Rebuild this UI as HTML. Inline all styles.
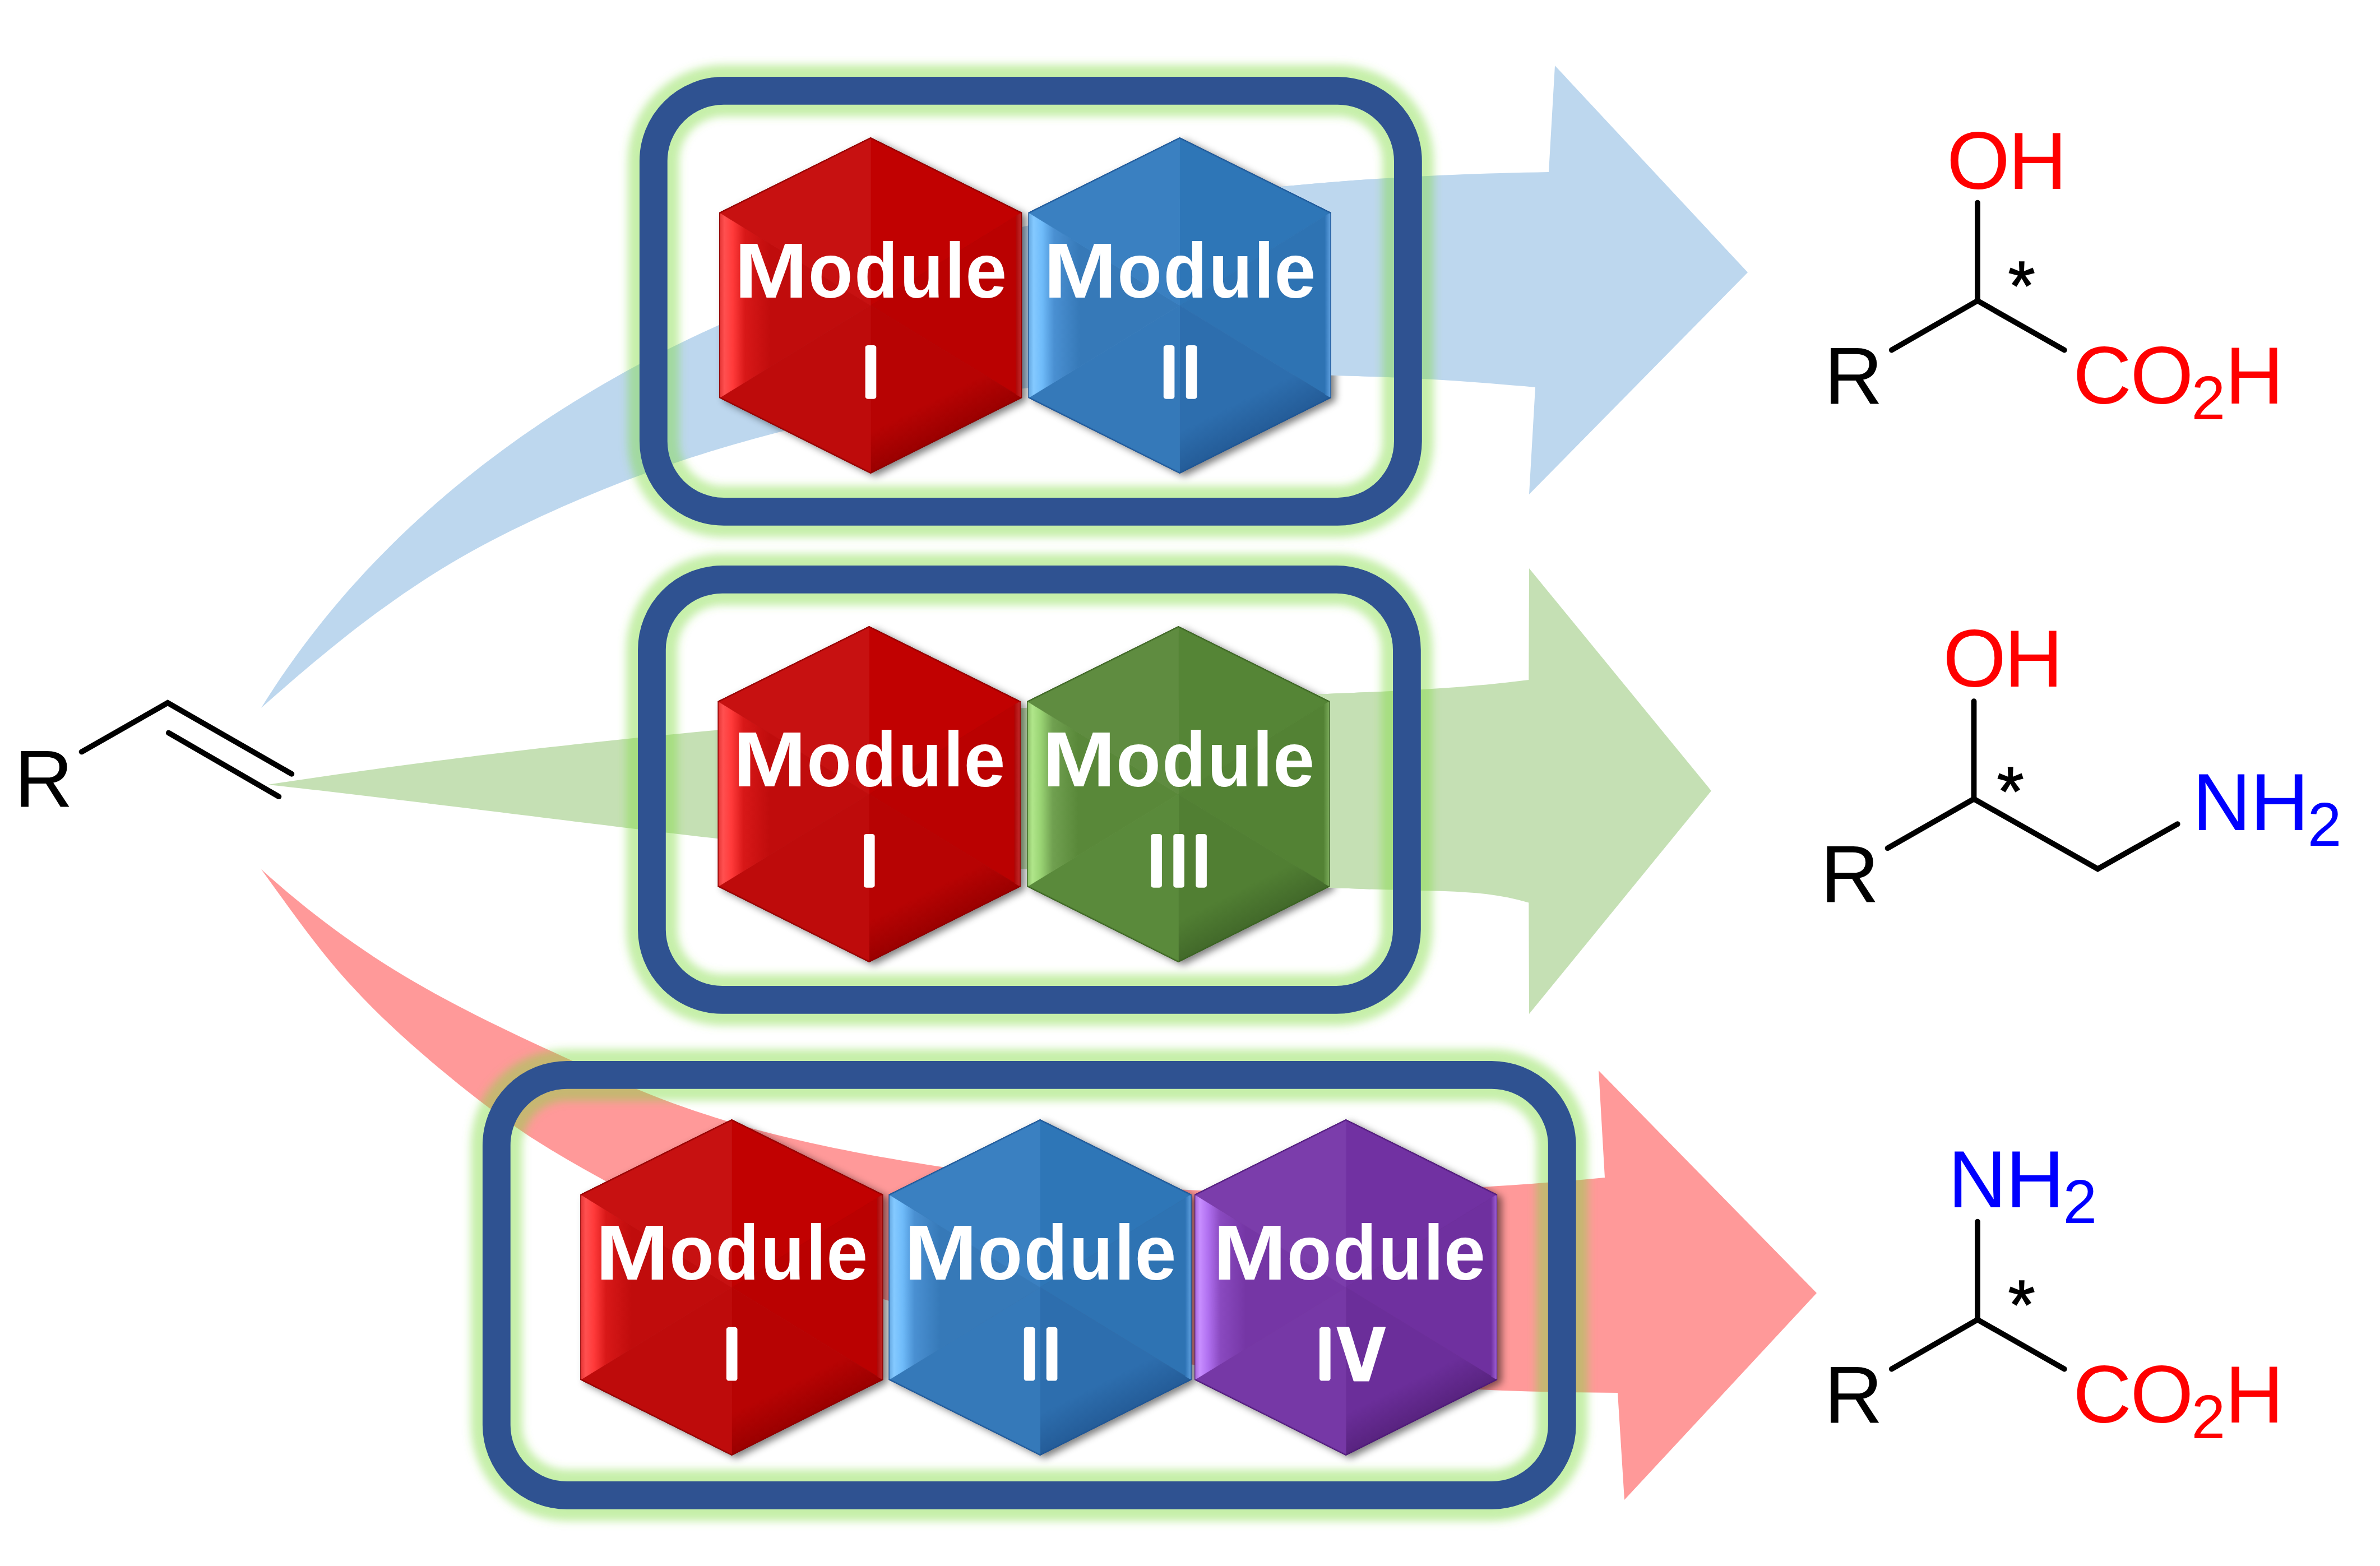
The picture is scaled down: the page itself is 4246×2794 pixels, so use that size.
<!DOCTYPE html><html><head><meta charset="utf-8"><style>html,body{margin:0;padding:0;background:#fff;}svg{display:block;}</style></head><body>
<svg xmlns="http://www.w3.org/2000/svg" width="4246" height="2794" viewBox="0 0 4246 2794">
<defs><filter id="glow" x="-10%" y="-10%" width="120%" height="120%"><feGaussianBlur stdDeviation="7.5"/></filter><filter id="shd" x="-20%" y="-20%" width="140%" height="140%"><feGaussianBlur stdDeviation="7"/></filter><filter id="shd2" x="-20%" y="-20%" width="140%" height="140%"><feGaussianBlur stdDeviation="8"/></filter><filter id="soft" x="-5%" y="-5%" width="110%" height="110%"><feGaussianBlur stdDeviation="1.2"/></filter><linearGradient id="gl1" gradientUnits="userSpaceOnUse" x1="1283.2" y1="0" x2="1553.2" y2="0"><stop offset="0" stop-color="#8E0000"/><stop offset="0.007" stop-color="#E93838"/><stop offset="0.035" stop-color="#FF5050"/><stop offset="0.09" stop-color="#FF3A3A"/><stop offset="0.17" stop-color="#D81818"/><stop offset="0.34" stop-color="#C00C0C"/><stop offset="1" stop-color="#C00C0C"/></linearGradient><linearGradient id="gbr1" gradientUnits="userSpaceOnUse" x1="1553.2" y1="545.0" x2="1673.2" y2="785.0"><stop offset="0" stop-color="#B70303"/><stop offset="0.75" stop-color="#B70303"/><stop offset="1" stop-color="#9A0000"/></linearGradient><linearGradient id="grim1" gradientUnits="userSpaceOnUse" x1="1812.2" y1="0" x2="1823.2" y2="0"><stop offset="0" stop-color="#AC0606"/><stop offset="0.85" stop-color="#C02828"/><stop offset="1" stop-color="#8E0000"/></linearGradient><clipPath id="hc1"><polygon points="1553.2,245.0 1823.2,379.0 1823.2,710.0 1553.2,845.0 1283.2,710.0 1283.2,379.0"/></clipPath><linearGradient id="gl2" gradientUnits="userSpaceOnUse" x1="1834.6" y1="0" x2="2104.6" y2="0"><stop offset="0" stop-color="#1E5596"/><stop offset="0.007" stop-color="#69ADE6"/><stop offset="0.035" stop-color="#84C9FF"/><stop offset="0.09" stop-color="#70BCFA"/><stop offset="0.17" stop-color="#4A90D2"/><stop offset="0.34" stop-color="#3679B8"/><stop offset="1" stop-color="#3679B8"/></linearGradient><linearGradient id="gbr2" gradientUnits="userSpaceOnUse" x1="2104.6" y1="545.0" x2="2224.6" y2="785.0"><stop offset="0" stop-color="#2D6EAE"/><stop offset="0.75" stop-color="#2D6EAE"/><stop offset="1" stop-color="#245C98"/></linearGradient><linearGradient id="grim2" gradientUnits="userSpaceOnUse" x1="2363.6" y1="0" x2="2374.6" y2="0"><stop offset="0" stop-color="#2F74B6"/><stop offset="0.85" stop-color="#5B9DDC"/><stop offset="1" stop-color="#1E5596"/></linearGradient><clipPath id="hc2"><polygon points="2104.6,245.0 2374.6,379.0 2374.6,710.0 2104.6,845.0 1834.6,710.0 1834.6,379.0"/></clipPath><linearGradient id="gl3" gradientUnits="userSpaceOnUse" x1="1280.6" y1="0" x2="1550.6" y2="0"><stop offset="0" stop-color="#8E0000"/><stop offset="0.007" stop-color="#E93838"/><stop offset="0.035" stop-color="#FF5050"/><stop offset="0.09" stop-color="#FF3A3A"/><stop offset="0.17" stop-color="#D81818"/><stop offset="0.34" stop-color="#C00C0C"/><stop offset="1" stop-color="#C00C0C"/></linearGradient><linearGradient id="gbr3" gradientUnits="userSpaceOnUse" x1="1550.6" y1="1417.0" x2="1670.6" y2="1657.0"><stop offset="0" stop-color="#B70303"/><stop offset="0.75" stop-color="#B70303"/><stop offset="1" stop-color="#9A0000"/></linearGradient><linearGradient id="grim3" gradientUnits="userSpaceOnUse" x1="1809.6" y1="0" x2="1820.6" y2="0"><stop offset="0" stop-color="#AC0606"/><stop offset="0.85" stop-color="#C02828"/><stop offset="1" stop-color="#8E0000"/></linearGradient><clipPath id="hc3"><polygon points="1550.6,1117.0 1820.6,1251.0 1820.6,1582.0 1550.6,1717.0 1280.6,1582.0 1280.6,1251.0"/></clipPath><linearGradient id="gl4" gradientUnits="userSpaceOnUse" x1="1832.3" y1="0" x2="2102.3" y2="0"><stop offset="0" stop-color="#3B6322"/><stop offset="0.007" stop-color="#92C56E"/><stop offset="0.035" stop-color="#B0E68A"/><stop offset="0.09" stop-color="#9AD474"/><stop offset="0.17" stop-color="#70A050"/><stop offset="0.34" stop-color="#598839"/><stop offset="1" stop-color="#598839"/></linearGradient><linearGradient id="gbr4" gradientUnits="userSpaceOnUse" x1="2102.3" y1="1417.0" x2="2222.3" y2="1657.0"><stop offset="0" stop-color="#517F33"/><stop offset="0.75" stop-color="#517F33"/><stop offset="1" stop-color="#42692A"/></linearGradient><linearGradient id="grim4" gradientUnits="userSpaceOnUse" x1="2361.3" y1="0" x2="2372.3" y2="0"><stop offset="0" stop-color="#548335"/><stop offset="0.85" stop-color="#76A656"/><stop offset="1" stop-color="#3B6322"/></linearGradient><clipPath id="hc4"><polygon points="2102.3,1117.0 2372.3,1251.0 2372.3,1582.0 2102.3,1717.0 1832.3,1582.0 1832.3,1251.0"/></clipPath><linearGradient id="gl5" gradientUnits="userSpaceOnUse" x1="1035.4" y1="0" x2="1305.4" y2="0"><stop offset="0" stop-color="#8E0000"/><stop offset="0.007" stop-color="#E93838"/><stop offset="0.035" stop-color="#FF5050"/><stop offset="0.09" stop-color="#FF3A3A"/><stop offset="0.17" stop-color="#D81818"/><stop offset="0.34" stop-color="#C00C0C"/><stop offset="1" stop-color="#C00C0C"/></linearGradient><linearGradient id="gbr5" gradientUnits="userSpaceOnUse" x1="1305.4" y1="2296.9" x2="1425.4" y2="2536.9"><stop offset="0" stop-color="#B70303"/><stop offset="0.75" stop-color="#B70303"/><stop offset="1" stop-color="#9A0000"/></linearGradient><linearGradient id="grim5" gradientUnits="userSpaceOnUse" x1="1564.4" y1="0" x2="1575.4" y2="0"><stop offset="0" stop-color="#AC0606"/><stop offset="0.85" stop-color="#C02828"/><stop offset="1" stop-color="#8E0000"/></linearGradient><clipPath id="hc5"><polygon points="1305.4,1996.9 1575.4,2130.9 1575.4,2461.9 1305.4,2596.9 1035.4,2461.9 1035.4,2130.9"/></clipPath><linearGradient id="gl6" gradientUnits="userSpaceOnUse" x1="1585.6" y1="0" x2="1855.6" y2="0"><stop offset="0" stop-color="#1E5596"/><stop offset="0.007" stop-color="#69ADE6"/><stop offset="0.035" stop-color="#84C9FF"/><stop offset="0.09" stop-color="#70BCFA"/><stop offset="0.17" stop-color="#4A90D2"/><stop offset="0.34" stop-color="#3679B8"/><stop offset="1" stop-color="#3679B8"/></linearGradient><linearGradient id="gbr6" gradientUnits="userSpaceOnUse" x1="1855.6" y1="2296.9" x2="1975.6" y2="2536.9"><stop offset="0" stop-color="#2D6EAE"/><stop offset="0.75" stop-color="#2D6EAE"/><stop offset="1" stop-color="#245C98"/></linearGradient><linearGradient id="grim6" gradientUnits="userSpaceOnUse" x1="2114.6" y1="0" x2="2125.6" y2="0"><stop offset="0" stop-color="#2F74B6"/><stop offset="0.85" stop-color="#5B9DDC"/><stop offset="1" stop-color="#1E5596"/></linearGradient><clipPath id="hc6"><polygon points="1855.6,1996.9 2125.6,2130.9 2125.6,2461.9 1855.6,2596.9 1585.6,2461.9 1585.6,2130.9"/></clipPath><linearGradient id="gl7" gradientUnits="userSpaceOnUse" x1="2131.1" y1="0" x2="2401.1" y2="0"><stop offset="0" stop-color="#4E1A78"/><stop offset="0.007" stop-color="#AB6FE0"/><stop offset="0.035" stop-color="#C88EFF"/><stop offset="0.09" stop-color="#B070F0"/><stop offset="0.17" stop-color="#8A4AC0"/><stop offset="0.34" stop-color="#7536A5"/><stop offset="1" stop-color="#7536A5"/></linearGradient><linearGradient id="gbr7" gradientUnits="userSpaceOnUse" x1="2401.1" y1="2296.9" x2="2521.1" y2="2536.9"><stop offset="0" stop-color="#6B2E9A"/><stop offset="0.75" stop-color="#6B2E9A"/><stop offset="1" stop-color="#58237F"/></linearGradient><linearGradient id="grim7" gradientUnits="userSpaceOnUse" x1="2660.1" y1="0" x2="2671.1" y2="0"><stop offset="0" stop-color="#7031A1"/><stop offset="0.85" stop-color="#9C5CD2"/><stop offset="1" stop-color="#4E1A78"/></linearGradient><clipPath id="hc7"><polygon points="2401.1,1996.9 2671.1,2130.9 2671.1,2461.9 2401.1,2596.9 2131.1,2461.9 2131.1,2130.9"/></clipPath><clipPath id="clipA1"><rect x="1835" y="200" width="612" height="700"/></clipPath><clipPath id="clipA2"><rect x="1833" y="1080" width="612" height="700"/></clipPath></defs>
<rect width="4246" height="2794" fill="#fff"/>
<path d="M466.0,1263.0 L477.8,1244.2 L489.8,1225.7 L502.1,1207.3 L514.7,1189.2 L527.5,1171.2 L540.5,1153.5 L553.7,1136.0 L567.2,1118.7 L580.9,1101.6 L594.8,1084.7 L608.9,1068.1 L623.2,1051.6 L637.8,1035.4 L652.5,1019.3 L667.5,1003.5 L682.7,987.9 L698.0,972.5 L713.5,957.3 L729.3,942.3 L745.2,927.5 L761.3,912.9 L777.5,898.5 L794.0,884.3 L810.6,870.3 L827.4,856.6 L844.3,843.0 L861.4,829.6 L878.7,816.4 L896.1,803.5 L913.6,790.7 L931.3,778.1 L949.2,765.8 L967.1,753.6 L985.2,741.6 L1003.5,729.8 L1021.8,718.3 L1040.3,706.9 L1058.9,695.7 L1077.6,684.7 L1096.5,673.9 L1115.4,663.3 L1134.4,652.9 L1153.6,642.7 L1172.8,632.7 L1192.2,622.8 L1211.6,613.2 L1231.1,603.7 L1250.7,594.5 L1270.4,585.4 L1290.2,576.5 L1310.1,567.8 L1330.1,559.2 L1350.1,550.9 L1370.2,542.7 L1390.4,534.7 L1410.7,526.8 L1431.0,519.2 L1451.5,511.7 L1472.0,504.3 L1492.5,497.2 L1513.2,490.2 L1533.9,483.3 L1554.6,476.6 L1575.4,470.1 L1596.3,463.7 L1617.3,457.5 L1638.3,451.5 L1659.3,445.6 L1680.4,439.8 L1701.6,434.2 L1722.8,428.8 L1744.0,423.4 L1765.3,418.3 L1786.7,413.3 L1808.1,408.4 L1829.5,403.6 L1850.9,399.0 L1872.4,394.5 L1894.0,390.2 L1915.5,386.0 L1937.1,381.9 L1958.8,378.0 L1980.4,374.1 L2002.1,370.4 L2023.8,366.9 L2045.5,363.4 L2067.3,360.1 L2089.0,356.9 L2110.8,353.8 L2132.6,350.8 L2154.4,347.9 L2176.3,345.2 L2198.1,342.5 L2219.9,340.0 L2241.8,337.6 L2263.6,335.2 L2285.5,333.0 L2307.3,330.9 L2329.2,328.9 L2351.0,327.0 L2372.8,325.2 L2394.7,323.4 L2416.5,321.8 L2438.3,320.3 L2460.1,318.8 L2481.9,317.4 L2503.7,316.2 L2525.4,315.0 L2547.2,313.9 L2568.9,312.8 L2590.6,311.9 L2612.2,311.0 L2633.8,310.2 L2655.5,309.5 L2677.0,308.9 L2698.6,308.3 L2720.1,307.8 L2741.6,307.4 L2763.0,307.0 L2774.0,117.0 L3118.0,486.0 L2728.0,882.0 L2739.0,691.0 L2718.8,689.1 L2698.6,687.4 L2678.4,685.7 L2658.1,684.0 L2637.9,682.5 L2617.7,681.0 L2597.4,679.6 L2577.1,678.3 L2556.9,677.1 L2536.6,675.9 L2516.3,674.9 L2496.1,673.9 L2475.8,673.0 L2455.5,672.2 L2435.2,671.4 L2414.9,670.8 L2394.6,670.2 L2374.3,669.8 L2354.0,669.4 L2333.7,669.1 L2313.4,668.9 L2293.1,668.8 L2272.7,668.8 L2252.4,668.8 L2232.1,669.0 L2211.8,669.3 L2191.5,669.6 L2171.2,670.1 L2150.9,670.6 L2130.6,671.3 L2110.3,672.0 L2090.0,672.8 L2069.7,673.8 L2049.4,674.8 L2029.1,676.0 L2008.9,677.2 L1988.6,678.5 L1968.3,680.0 L1948.1,681.5 L1927.8,683.2 L1907.6,685.0 L1887.3,686.8 L1867.1,688.8 L1846.9,690.9 L1826.7,693.1 L1806.4,695.4 L1786.3,697.8 L1766.1,700.3 L1745.9,702.9 L1725.7,705.7 L1705.6,708.6 L1685.5,711.5 L1665.4,714.7 L1645.3,717.9 L1625.2,721.2 L1605.2,724.7 L1585.2,728.3 L1565.2,732.1 L1545.3,735.9 L1525.3,740.0 L1505.4,744.1 L1485.6,748.4 L1465.7,752.8 L1445.9,757.3 L1426.2,762.0 L1406.5,766.9 L1386.8,771.8 L1367.1,777.0 L1347.5,782.2 L1328.0,787.7 L1308.5,793.2 L1289.0,799.0 L1269.6,804.8 L1250.2,810.9 L1230.9,817.1 L1211.6,823.4 L1192.4,829.9 L1173.2,836.6 L1154.1,843.5 L1135.1,850.5 L1116.1,857.6 L1097.2,865.0 L1078.3,872.5 L1059.5,880.2 L1040.8,888.0 L1022.1,896.0 L1003.5,904.1 L984.9,912.4 L966.4,920.8 L948.0,929.4 L929.7,938.2 L911.5,947.1 L893.3,956.2 L875.3,965.5 L857.4,975.1 L839.6,984.8 L822.0,994.8 L804.5,1005.0 L787.1,1015.5 L769.9,1026.2 L752.9,1037.2 L736.0,1048.4 L719.2,1059.8 L702.6,1071.4 L686.1,1083.2 L669.7,1095.1 L653.4,1107.3 L637.2,1119.6 L621.2,1132.1 L605.3,1144.7 L589.4,1157.5 L573.7,1170.4 L558.1,1183.3 L542.5,1196.4 L527.1,1209.6 L511.7,1222.9 L496.4,1236.2 L481.2,1249.6 L466.0,1263.0 Z" fill="#BDD7EE"/>
<path d="M478.0,1400.0 L496.8,1397.1 L515.5,1394.3 L534.3,1391.5 L553.1,1388.7 L571.8,1386.0 L590.6,1383.3 L609.4,1380.6 L628.2,1377.9 L647.0,1375.3 L665.8,1372.7 L684.6,1370.1 L703.4,1367.5 L722.2,1365.0 L741.0,1362.5 L759.9,1360.0 L778.7,1357.6 L797.5,1355.2 L816.3,1352.8 L835.2,1350.4 L854.0,1348.1 L872.9,1345.8 L891.7,1343.5 L910.5,1341.2 L929.4,1339.0 L948.3,1336.8 L967.1,1334.6 L986.0,1332.5 L1004.8,1330.4 L1023.7,1328.3 L1042.6,1326.2 L1061.5,1324.2 L1080.3,1322.2 L1099.2,1320.2 L1118.1,1318.2 L1137.0,1316.3 L1155.9,1314.4 L1174.8,1312.5 L1193.7,1310.7 L1212.6,1308.9 L1231.5,1307.1 L1250.4,1305.3 L1269.3,1303.6 L1288.2,1301.8 L1307.1,1300.2 L1326.0,1298.5 L1344.9,1296.9 L1363.8,1295.2 L1382.7,1293.7 L1401.7,1292.1 L1420.6,1290.6 L1439.5,1289.1 L1458.4,1287.6 L1477.4,1286.1 L1496.3,1284.7 L1515.2,1283.3 L1534.2,1281.9 L1553.1,1280.5 L1572.0,1279.1 L1591.0,1277.8 L1609.9,1276.5 L1628.8,1275.2 L1647.8,1274.0 L1666.7,1272.7 L1685.7,1271.5 L1704.6,1270.3 L1723.6,1269.1 L1742.5,1267.9 L1761.5,1266.8 L1780.4,1265.7 L1799.4,1264.5 L1818.3,1263.5 L1837.3,1262.4 L1856.2,1261.3 L1875.2,1260.3 L1894.2,1259.2 L1913.1,1258.2 L1932.1,1257.2 L1951.0,1256.3 L1970.0,1255.3 L1989.0,1254.3 L2007.9,1253.4 L2026.9,1252.5 L2045.8,1251.6 L2064.8,1250.7 L2083.8,1249.8 L2102.7,1248.9 L2121.7,1248.1 L2140.7,1247.2 L2159.6,1246.4 L2178.6,1245.6 L2197.6,1244.8 L2216.5,1244.0 L2235.5,1243.2 L2254.4,1242.4 L2273.4,1241.6 L2292.4,1240.8 L2311.3,1240.1 L2330.3,1239.3 L2349.3,1238.6 L2368.2,1237.9 L2387.2,1237.1 L2406.2,1236.4 L2425.1,1235.6 L2444.1,1234.8 L2463.0,1233.9 L2482.0,1233.0 L2500.9,1232.1 L2519.8,1231.1 L2538.7,1230.0 L2557.6,1228.8 L2576.5,1227.5 L2595.4,1226.2 L2614.3,1224.7 L2633.2,1223.1 L2652.0,1221.4 L2670.9,1219.5 L2689.7,1217.5 L2708.5,1215.3 L2727.3,1212.9 L2728.0,1014.0 L3053.0,1411.0 L2728.0,1809.0 L2727.3,1610.6 L2708.8,1605.5 L2690.1,1601.3 L2671.4,1598.0 L2652.6,1595.3 L2633.8,1593.3 L2614.9,1591.9 L2595.9,1590.8 L2577.0,1590.0 L2558.0,1589.5 L2539.0,1589.0 L2520.0,1588.5 L2501.0,1588.0 L2482.0,1587.5 L2463.0,1587.0 L2444.0,1586.4 L2425.0,1585.7 L2406.0,1585.1 L2387.0,1584.4 L2368.0,1583.7 L2349.0,1582.9 L2330.0,1582.1 L2311.1,1581.3 L2292.1,1580.4 L2273.1,1579.6 L2254.1,1578.6 L2235.2,1577.7 L2216.2,1576.7 L2197.2,1575.7 L2178.3,1574.7 L2159.3,1573.6 L2140.3,1572.5 L2121.4,1571.4 L2102.4,1570.3 L2083.5,1569.1 L2064.5,1567.9 L2045.6,1566.7 L2026.6,1565.4 L2007.7,1564.1 L1988.7,1562.8 L1969.8,1561.5 L1950.9,1560.1 L1931.9,1558.7 L1913.0,1557.3 L1894.1,1555.8 L1875.1,1554.4 L1856.2,1552.9 L1837.3,1551.3 L1818.3,1549.8 L1799.4,1548.2 L1780.5,1546.6 L1761.6,1545.0 L1742.7,1543.4 L1723.7,1541.7 L1704.8,1540.0 L1685.9,1538.3 L1667.0,1536.5 L1648.1,1534.8 L1629.2,1533.0 L1610.3,1531.2 L1591.4,1529.4 L1572.5,1527.5 L1553.6,1525.6 L1534.7,1523.7 L1515.8,1521.8 L1496.9,1519.9 L1478.0,1517.9 L1459.1,1516.0 L1440.2,1514.0 L1421.3,1511.9 L1402.4,1509.9 L1383.5,1507.8 L1364.7,1505.8 L1345.8,1503.7 L1326.9,1501.6 L1308.0,1499.4 L1289.1,1497.3 L1270.3,1495.1 L1251.4,1492.9 L1232.5,1490.7 L1213.7,1488.5 L1194.8,1486.3 L1175.9,1484.0 L1157.1,1481.8 L1138.2,1479.5 L1119.3,1477.2 L1100.5,1474.9 L1081.6,1472.6 L1062.7,1470.3 L1043.9,1468.0 L1025.0,1465.7 L1006.1,1463.3 L987.3,1461.0 L968.4,1458.7 L949.6,1456.3 L930.7,1454.0 L911.9,1451.7 L893.0,1449.3 L874.1,1447.0 L855.3,1444.7 L836.4,1442.3 L817.6,1440.0 L798.7,1437.7 L779.8,1435.4 L761.0,1433.1 L742.1,1430.8 L723.3,1428.5 L704.4,1426.2 L685.5,1423.9 L666.7,1421.7 L647.8,1419.4 L629.0,1417.2 L610.1,1415.0 L591.2,1412.8 L572.4,1410.6 L553.5,1408.5 L534.6,1406.3 L515.7,1404.2 L496.9,1402.1 L478.0,1400.0 Z" fill="#C5E0B4"/>
<path d="M466.0,1551.0 L481.9,1565.2 L497.9,1579.1 L514.1,1592.9 L530.5,1606.5 L547.0,1619.9 L563.7,1633.1 L580.6,1646.0 L597.6,1658.7 L614.8,1671.2 L632.2,1683.5 L649.7,1695.6 L667.4,1707.4 L685.2,1718.9 L703.2,1730.2 L721.3,1741.2 L739.6,1752.0 L758.0,1762.6 L776.5,1772.9 L795.2,1783.1 L813.9,1793.0 L832.8,1802.8 L851.7,1812.5 L870.7,1821.9 L889.8,1831.3 L908.9,1840.5 L928.1,1849.7 L947.3,1858.7 L966.6,1867.7 L985.9,1876.6 L1005.3,1885.5 L1024.6,1894.3 L1044.0,1903.1 L1063.4,1911.8 L1082.9,1920.4 L1102.4,1928.9 L1122.0,1937.2 L1141.6,1945.3 L1161.3,1953.2 L1181.1,1960.9 L1201.0,1968.4 L1221.0,1975.5 L1241.0,1982.4 L1261.2,1989.1 L1281.4,1995.5 L1301.7,2001.7 L1322.0,2007.6 L1342.5,2013.4 L1363.0,2018.9 L1383.5,2024.2 L1404.1,2029.3 L1424.8,2034.2 L1445.5,2038.9 L1466.3,2043.5 L1487.1,2047.9 L1507.9,2052.1 L1528.8,2056.2 L1549.7,2060.2 L1570.6,2064.0 L1591.6,2067.6 L1612.5,2071.2 L1633.5,2074.6 L1654.5,2078.0 L1675.5,2081.2 L1696.6,2084.3 L1717.6,2087.2 L1738.7,2090.1 L1759.7,2092.8 L1780.8,2095.5 L1801.9,2098.0 L1823.1,2100.4 L1844.2,2102.7 L1865.3,2104.9 L1886.5,2107.0 L1907.6,2109.0 L1928.8,2110.9 L1950.0,2112.6 L1971.2,2114.3 L1992.4,2115.9 L2013.6,2117.3 L2034.8,2118.7 L2056.0,2119.9 L2077.3,2121.1 L2098.5,2122.1 L2119.8,2123.1 L2141.0,2124.0 L2162.3,2124.7 L2183.5,2125.4 L2204.8,2125.9 L2226.0,2126.4 L2247.3,2126.8 L2268.6,2127.1 L2289.8,2127.3 L2311.1,2127.4 L2332.4,2127.4 L2353.7,2127.3 L2374.9,2127.2 L2396.2,2126.9 L2417.5,2126.6 L2438.8,2126.2 L2460.0,2125.7 L2481.3,2125.1 L2502.5,2124.4 L2523.8,2123.6 L2545.1,2122.8 L2566.3,2121.9 L2587.6,2120.9 L2608.8,2119.8 L2630.0,2118.6 L2651.2,2117.4 L2672.5,2116.1 L2693.7,2114.7 L2714.9,2113.2 L2736.1,2111.7 L2757.2,2110.1 L2778.4,2108.4 L2799.6,2106.7 L2820.7,2104.9 L2841.9,2103.0 L2863.0,2101.0 L2852.0,1910.0 L3241.0,2307.0 L2898.0,2676.0 L2886.0,2485.0 L2863.3,2484.8 L2840.6,2484.6 L2817.9,2484.3 L2795.2,2483.9 L2772.5,2483.5 L2749.9,2483.0 L2727.2,2482.4 L2704.5,2481.7 L2681.8,2480.9 L2659.1,2480.1 L2636.5,2479.1 L2613.8,2478.1 L2591.1,2477.0 L2568.5,2475.9 L2545.8,2474.6 L2523.2,2473.3 L2500.5,2471.8 L2477.9,2470.3 L2455.2,2468.7 L2432.6,2467.0 L2410.0,2465.2 L2387.4,2463.3 L2364.7,2461.3 L2342.1,2459.3 L2319.5,2457.1 L2297.0,2454.9 L2274.4,2452.5 L2251.8,2450.0 L2229.2,2447.5 L2206.7,2444.9 L2184.1,2442.1 L2161.6,2439.3 L2139.1,2436.3 L2116.5,2433.3 L2094.0,2430.1 L2071.5,2426.8 L2049.0,2423.5 L2026.6,2420.0 L2004.1,2416.4 L1981.7,2412.6 L1959.3,2408.8 L1936.9,2404.8 L1914.6,2400.7 L1892.2,2396.4 L1870.0,2392.0 L1847.7,2387.4 L1825.5,2382.7 L1803.3,2377.9 L1781.1,2372.9 L1759.0,2367.7 L1736.9,2362.4 L1714.9,2356.9 L1692.9,2351.2 L1671.0,2345.4 L1649.1,2339.4 L1627.2,2333.2 L1605.4,2326.8 L1583.7,2320.2 L1562.0,2313.4 L1540.4,2306.5 L1518.9,2299.3 L1497.4,2292.0 L1475.9,2284.5 L1454.6,2276.7 L1433.3,2268.8 L1412.0,2260.8 L1390.9,2252.5 L1369.7,2244.1 L1348.7,2235.5 L1327.8,2226.7 L1306.9,2217.7 L1286.1,2208.6 L1265.3,2199.3 L1244.7,2189.8 L1224.1,2180.2 L1203.6,2170.4 L1183.1,2160.4 L1162.8,2150.3 L1142.6,2140.0 L1122.4,2129.5 L1102.3,2118.9 L1082.3,2108.2 L1062.4,2097.3 L1042.6,2086.2 L1022.9,2075.0 L1003.2,2063.6 L983.8,2052.0 L964.5,2040.1 L945.4,2027.9 L926.6,2015.3 L908.0,2002.4 L889.6,1989.2 L871.3,1975.7 L853.3,1962.0 L835.4,1948.0 L817.7,1933.9 L800.1,1919.5 L782.5,1905.0 L765.2,1890.4 L748.0,1875.5 L730.9,1860.5 L714.0,1845.3 L697.4,1829.8 L681.0,1814.2 L664.8,1798.3 L648.9,1782.1 L633.3,1765.6 L618.0,1748.9 L603.0,1731.9 L588.4,1714.5 L574.1,1696.9 L560.1,1679.1 L546.3,1661.0 L532.7,1642.8 L519.3,1624.5 L505.9,1606.1 L492.6,1587.7 L479.3,1569.3 L466.0,1551.0 Z" fill="#FF9999"/>
<rect x="1165.8" y="161.8" width="1346.1" height="751.0" rx="125.5" fill="none" stroke="rgba(128,219,66,0.45)" stroke-width="92" filter="url(#glow)"/>
<rect x="1162.9" y="1033.9" width="1347.0" height="750.0" rx="125.5" fill="none" stroke="rgba(128,219,66,0.45)" stroke-width="92" filter="url(#glow)"/>
<rect x="885.8" y="1917.9" width="1901.0" height="750.0" rx="125.5" fill="none" stroke="rgba(128,219,66,0.45)" stroke-width="92" filter="url(#glow)"/>
<rect x="1165.8" y="161.8" width="1346.1" height="751.0" rx="125.5" fill="none" stroke="#2F5291" stroke-width="49.8"/>
<rect x="1162.9" y="1033.9" width="1347.0" height="750.0" rx="125.5" fill="none" stroke="#2F5291" stroke-width="49.8"/>
<rect x="885.8" y="1917.9" width="1901.0" height="750.0" rx="125.5" fill="none" stroke="#2F5291" stroke-width="49.8"/>
<polygon points="1553.2,245.0 1823.2,379.0 1823.2,710.0 1553.2,845.0 1283.2,710.0 1283.2,379.0" fill="#000" opacity="0.5" transform="translate(8,5)" filter="url(#shd)"/>
<g clip-path="url(#hc1)"><polygon points="1553.2,245.0 1823.2,379.0 1553.2,545.0" fill="#C10101" stroke="#C10101" stroke-width="0.8"/><polygon points="1823.2,379.0 1823.2,710.0 1553.2,545.0" fill="#BA0101" stroke="#BA0101" stroke-width="0.8"/><polygon points="1823.2,710.0 1553.2,845.0 1553.2,545.0" fill="url(#gbr1)" stroke="url(#gbr1)" stroke-width="0.8"/><polygon points="1553.2,845.0 1283.2,710.0 1553.2,545.0" fill="#BE0B0B" stroke="#BE0B0B" stroke-width="0.8"/><polygon points="1283.2,710.0 1283.2,379.0 1553.2,545.0" fill="url(#gl1)" stroke="url(#gl1)" stroke-width="0.8"/><polygon points="1283.2,379.0 1553.2,245.0 1553.2,545.0" fill="#C71111" stroke="#C71111" stroke-width="0.8"/><polygon points="1823.2,379.0 1823.2,710.0 1812.2,704.0 1812.2,385.0" fill="url(#grim1)"/><polyline points="1283.2,379.0 1553.2,245.0 1823.2,379.0" fill="none" stroke="#8E0000" stroke-width="5" opacity="0.55"/><polyline points="1283.2,710.0 1553.2,845.0 1823.2,710.0" fill="none" stroke="#8E0000" stroke-width="5" opacity="0.55"/><polygon points="1553.2,245.0 1823.2,379.0 1823.2,710.0 1553.2,845.0 1283.2,710.0 1283.2,379.0" fill="none" stroke="#8E0000" stroke-width="2.2"/></g>
<text transform="translate(1310.30,530.80) scale(1.1222,1)" font-family="Liberation Sans" font-weight="bold" font-size="140" fill="#fff">M</text><text transform="translate(1441.83,530.80) scale(0.9333,1)" font-family="Liberation Sans" font-weight="bold" font-size="140" fill="#fff">o</text><text transform="translate(1524.37,530.80) scale(0.9056,1)" font-family="Liberation Sans" font-weight="bold" font-size="140" fill="#fff">d</text><text transform="translate(1605.13,530.80) scale(0.9087,1)" font-family="Liberation Sans" font-weight="bold" font-size="140" fill="#fff">u</text><text transform="translate(1685.77,530.80) scale(0.9150,1)" font-family="Liberation Sans" font-weight="bold" font-size="140" fill="#fff">l</text><text transform="translate(1722.15,530.80) scale(0.9500,1)" font-family="Liberation Sans" font-weight="bold" font-size="140" fill="#fff">e</text>
<rect x="1543.7" y="615.9" width="19.6" height="95.8" rx="5" ry="4" fill="#fff"/>
<polygon points="2104.6,245.0 2374.6,379.0 2374.6,710.0 2104.6,845.0 1834.6,710.0 1834.6,379.0" fill="#000" opacity="0.5" transform="translate(8,5)" filter="url(#shd)"/>
<g clip-path="url(#clipA1)"><path d="M466.0,1263.0 L477.8,1244.2 L489.8,1225.7 L502.1,1207.3 L514.7,1189.2 L527.5,1171.2 L540.5,1153.5 L553.7,1136.0 L567.2,1118.7 L580.9,1101.6 L594.8,1084.7 L608.9,1068.1 L623.2,1051.6 L637.8,1035.4 L652.5,1019.3 L667.5,1003.5 L682.7,987.9 L698.0,972.5 L713.5,957.3 L729.3,942.3 L745.2,927.5 L761.3,912.9 L777.5,898.5 L794.0,884.3 L810.6,870.3 L827.4,856.6 L844.3,843.0 L861.4,829.6 L878.7,816.4 L896.1,803.5 L913.6,790.7 L931.3,778.1 L949.2,765.8 L967.1,753.6 L985.2,741.6 L1003.5,729.8 L1021.8,718.3 L1040.3,706.9 L1058.9,695.7 L1077.6,684.7 L1096.5,673.9 L1115.4,663.3 L1134.4,652.9 L1153.6,642.7 L1172.8,632.7 L1192.2,622.8 L1211.6,613.2 L1231.1,603.7 L1250.7,594.5 L1270.4,585.4 L1290.2,576.5 L1310.1,567.8 L1330.1,559.2 L1350.1,550.9 L1370.2,542.7 L1390.4,534.7 L1410.7,526.8 L1431.0,519.2 L1451.5,511.7 L1472.0,504.3 L1492.5,497.2 L1513.2,490.2 L1533.9,483.3 L1554.6,476.6 L1575.4,470.1 L1596.3,463.7 L1617.3,457.5 L1638.3,451.5 L1659.3,445.6 L1680.4,439.8 L1701.6,434.2 L1722.8,428.8 L1744.0,423.4 L1765.3,418.3 L1786.7,413.3 L1808.1,408.4 L1829.5,403.6 L1850.9,399.0 L1872.4,394.5 L1894.0,390.2 L1915.5,386.0 L1937.1,381.9 L1958.8,378.0 L1980.4,374.1 L2002.1,370.4 L2023.8,366.9 L2045.5,363.4 L2067.3,360.1 L2089.0,356.9 L2110.8,353.8 L2132.6,350.8 L2154.4,347.9 L2176.3,345.2 L2198.1,342.5 L2219.9,340.0 L2241.8,337.6 L2263.6,335.2 L2285.5,333.0 L2307.3,330.9 L2329.2,328.9 L2351.0,327.0 L2372.8,325.2 L2394.7,323.4 L2416.5,321.8 L2438.3,320.3 L2460.1,318.8 L2481.9,317.4 L2503.7,316.2 L2525.4,315.0 L2547.2,313.9 L2568.9,312.8 L2590.6,311.9 L2612.2,311.0 L2633.8,310.2 L2655.5,309.5 L2677.0,308.9 L2698.6,308.3 L2720.1,307.8 L2741.6,307.4 L2763.0,307.0 L2774.0,117.0 L3118.0,486.0 L2728.0,882.0 L2739.0,691.0 L2718.8,689.1 L2698.6,687.4 L2678.4,685.7 L2658.1,684.0 L2637.9,682.5 L2617.7,681.0 L2597.4,679.6 L2577.1,678.3 L2556.9,677.1 L2536.6,675.9 L2516.3,674.9 L2496.1,673.9 L2475.8,673.0 L2455.5,672.2 L2435.2,671.4 L2414.9,670.8 L2394.6,670.2 L2374.3,669.8 L2354.0,669.4 L2333.7,669.1 L2313.4,668.9 L2293.1,668.8 L2272.7,668.8 L2252.4,668.8 L2232.1,669.0 L2211.8,669.3 L2191.5,669.6 L2171.2,670.1 L2150.9,670.6 L2130.6,671.3 L2110.3,672.0 L2090.0,672.8 L2069.7,673.8 L2049.4,674.8 L2029.1,676.0 L2008.9,677.2 L1988.6,678.5 L1968.3,680.0 L1948.1,681.5 L1927.8,683.2 L1907.6,685.0 L1887.3,686.8 L1867.1,688.8 L1846.9,690.9 L1826.7,693.1 L1806.4,695.4 L1786.3,697.8 L1766.1,700.3 L1745.9,702.9 L1725.7,705.7 L1705.6,708.6 L1685.5,711.5 L1665.4,714.7 L1645.3,717.9 L1625.2,721.2 L1605.2,724.7 L1585.2,728.3 L1565.2,732.1 L1545.3,735.9 L1525.3,740.0 L1505.4,744.1 L1485.6,748.4 L1465.7,752.8 L1445.9,757.3 L1426.2,762.0 L1406.5,766.9 L1386.8,771.8 L1367.1,777.0 L1347.5,782.2 L1328.0,787.7 L1308.5,793.2 L1289.0,799.0 L1269.6,804.8 L1250.2,810.9 L1230.9,817.1 L1211.6,823.4 L1192.4,829.9 L1173.2,836.6 L1154.1,843.5 L1135.1,850.5 L1116.1,857.6 L1097.2,865.0 L1078.3,872.5 L1059.5,880.2 L1040.8,888.0 L1022.1,896.0 L1003.5,904.1 L984.9,912.4 L966.4,920.8 L948.0,929.4 L929.7,938.2 L911.5,947.1 L893.3,956.2 L875.3,965.5 L857.4,975.1 L839.6,984.8 L822.0,994.8 L804.5,1005.0 L787.1,1015.5 L769.9,1026.2 L752.9,1037.2 L736.0,1048.4 L719.2,1059.8 L702.6,1071.4 L686.1,1083.2 L669.7,1095.1 L653.4,1107.3 L637.2,1119.6 L621.2,1132.1 L605.3,1144.7 L589.4,1157.5 L573.7,1170.4 L558.1,1183.3 L542.5,1196.4 L527.1,1209.6 L511.7,1222.9 L496.4,1236.2 L481.2,1249.6 L466.0,1263.0 Z" fill="#BDD7EE"/></g>
<g clip-path="url(#hc2)"><polygon points="2104.6,245.0 2374.6,379.0 2104.6,545.0" fill="#2E76B7" stroke="#2E76B7" stroke-width="0.8"/><polygon points="2374.6,379.0 2374.6,710.0 2104.6,545.0" fill="#2E73B3" stroke="#2E73B3" stroke-width="0.8"/><polygon points="2374.6,710.0 2104.6,845.0 2104.6,545.0" fill="url(#gbr2)" stroke="url(#gbr2)" stroke-width="0.8"/><polygon points="2104.6,845.0 1834.6,710.0 2104.6,545.0" fill="#3579B9" stroke="#3579B9" stroke-width="0.8"/><polygon points="1834.6,710.0 1834.6,379.0 2104.6,545.0" fill="url(#gl2)" stroke="url(#gl2)" stroke-width="0.8"/><polygon points="1834.6,379.0 2104.6,245.0 2104.6,545.0" fill="#3A80C1" stroke="#3A80C1" stroke-width="0.8"/><polygon points="2374.6,379.0 2374.6,710.0 2363.6,704.0 2363.6,385.0" fill="url(#grim2)"/><polyline points="1834.6,379.0 2104.6,245.0 2374.6,379.0" fill="none" stroke="#1E5596" stroke-width="5" opacity="0.55"/><polyline points="1834.6,710.0 2104.6,845.0 2374.6,710.0" fill="none" stroke="#1E5596" stroke-width="5" opacity="0.55"/><polygon points="2104.6,245.0 2374.6,379.0 2374.6,710.0 2104.6,845.0 1834.6,710.0 1834.6,379.0" fill="none" stroke="#1E5596" stroke-width="2.2"/></g>
<text transform="translate(1861.70,530.80) scale(1.1222,1)" font-family="Liberation Sans" font-weight="bold" font-size="140" fill="#fff">M</text><text transform="translate(1993.23,530.80) scale(0.9333,1)" font-family="Liberation Sans" font-weight="bold" font-size="140" fill="#fff">o</text><text transform="translate(2075.77,530.80) scale(0.9056,1)" font-family="Liberation Sans" font-weight="bold" font-size="140" fill="#fff">d</text><text transform="translate(2156.53,530.80) scale(0.9087,1)" font-family="Liberation Sans" font-weight="bold" font-size="140" fill="#fff">u</text><text transform="translate(2237.16,530.80) scale(0.9150,1)" font-family="Liberation Sans" font-weight="bold" font-size="140" fill="#fff">l</text><text transform="translate(2273.55,530.80) scale(0.9500,1)" font-family="Liberation Sans" font-weight="bold" font-size="140" fill="#fff">e</text>
<rect x="2075.8" y="615.9" width="19.6" height="95.8" rx="5" ry="4" fill="#fff"/><rect x="2115.8" y="615.9" width="19.6" height="95.8" rx="5" ry="4" fill="#fff"/>
<polygon points="1550.6,1117.0 1820.6,1251.0 1820.6,1582.0 1550.6,1717.0 1280.6,1582.0 1280.6,1251.0" fill="#000" opacity="0.5" transform="translate(8,5)" filter="url(#shd)"/>
<g clip-path="url(#hc3)"><polygon points="1550.6,1117.0 1820.6,1251.0 1550.6,1417.0" fill="#C10101" stroke="#C10101" stroke-width="0.8"/><polygon points="1820.6,1251.0 1820.6,1582.0 1550.6,1417.0" fill="#BA0101" stroke="#BA0101" stroke-width="0.8"/><polygon points="1820.6,1582.0 1550.6,1717.0 1550.6,1417.0" fill="url(#gbr3)" stroke="url(#gbr3)" stroke-width="0.8"/><polygon points="1550.6,1717.0 1280.6,1582.0 1550.6,1417.0" fill="#BE0B0B" stroke="#BE0B0B" stroke-width="0.8"/><polygon points="1280.6,1582.0 1280.6,1251.0 1550.6,1417.0" fill="url(#gl3)" stroke="url(#gl3)" stroke-width="0.8"/><polygon points="1280.6,1251.0 1550.6,1117.0 1550.6,1417.0" fill="#C71111" stroke="#C71111" stroke-width="0.8"/><polygon points="1820.6,1251.0 1820.6,1582.0 1809.6,1576.0 1809.6,1257.0" fill="url(#grim3)"/><polyline points="1280.6,1251.0 1550.6,1117.0 1820.6,1251.0" fill="none" stroke="#8E0000" stroke-width="5" opacity="0.55"/><polyline points="1280.6,1582.0 1550.6,1717.0 1820.6,1582.0" fill="none" stroke="#8E0000" stroke-width="5" opacity="0.55"/><polygon points="1550.6,1117.0 1820.6,1251.0 1820.6,1582.0 1550.6,1717.0 1280.6,1582.0 1280.6,1251.0" fill="none" stroke="#8E0000" stroke-width="2.2"/></g>
<text transform="translate(1307.70,1402.80) scale(1.1222,1)" font-family="Liberation Sans" font-weight="bold" font-size="140" fill="#fff">M</text><text transform="translate(1439.23,1402.80) scale(0.9333,1)" font-family="Liberation Sans" font-weight="bold" font-size="140" fill="#fff">o</text><text transform="translate(1521.77,1402.80) scale(0.9056,1)" font-family="Liberation Sans" font-weight="bold" font-size="140" fill="#fff">d</text><text transform="translate(1602.53,1402.80) scale(0.9087,1)" font-family="Liberation Sans" font-weight="bold" font-size="140" fill="#fff">u</text><text transform="translate(1683.16,1402.80) scale(0.9150,1)" font-family="Liberation Sans" font-weight="bold" font-size="140" fill="#fff">l</text><text transform="translate(1719.55,1402.80) scale(0.9500,1)" font-family="Liberation Sans" font-weight="bold" font-size="140" fill="#fff">e</text>
<rect x="1541.0" y="1487.9" width="19.6" height="95.8" rx="5" ry="4" fill="#fff"/>
<polygon points="2102.3,1117.0 2372.3,1251.0 2372.3,1582.0 2102.3,1717.0 1832.3,1582.0 1832.3,1251.0" fill="#000" opacity="0.5" transform="translate(8,5)" filter="url(#shd)"/>
<g clip-path="url(#clipA2)"><path d="M478.0,1400.0 L496.8,1397.1 L515.5,1394.3 L534.3,1391.5 L553.1,1388.7 L571.8,1386.0 L590.6,1383.3 L609.4,1380.6 L628.2,1377.9 L647.0,1375.3 L665.8,1372.7 L684.6,1370.1 L703.4,1367.5 L722.2,1365.0 L741.0,1362.5 L759.9,1360.0 L778.7,1357.6 L797.5,1355.2 L816.3,1352.8 L835.2,1350.4 L854.0,1348.1 L872.9,1345.8 L891.7,1343.5 L910.5,1341.2 L929.4,1339.0 L948.3,1336.8 L967.1,1334.6 L986.0,1332.5 L1004.8,1330.4 L1023.7,1328.3 L1042.6,1326.2 L1061.5,1324.2 L1080.3,1322.2 L1099.2,1320.2 L1118.1,1318.2 L1137.0,1316.3 L1155.9,1314.4 L1174.8,1312.5 L1193.7,1310.7 L1212.6,1308.9 L1231.5,1307.1 L1250.4,1305.3 L1269.3,1303.6 L1288.2,1301.8 L1307.1,1300.2 L1326.0,1298.5 L1344.9,1296.9 L1363.8,1295.2 L1382.7,1293.7 L1401.7,1292.1 L1420.6,1290.6 L1439.5,1289.1 L1458.4,1287.6 L1477.4,1286.1 L1496.3,1284.7 L1515.2,1283.3 L1534.2,1281.9 L1553.1,1280.5 L1572.0,1279.1 L1591.0,1277.8 L1609.9,1276.5 L1628.8,1275.2 L1647.8,1274.0 L1666.7,1272.7 L1685.7,1271.5 L1704.6,1270.3 L1723.6,1269.1 L1742.5,1267.9 L1761.5,1266.8 L1780.4,1265.7 L1799.4,1264.5 L1818.3,1263.5 L1837.3,1262.4 L1856.2,1261.3 L1875.2,1260.3 L1894.2,1259.2 L1913.1,1258.2 L1932.1,1257.2 L1951.0,1256.3 L1970.0,1255.3 L1989.0,1254.3 L2007.9,1253.4 L2026.9,1252.5 L2045.8,1251.6 L2064.8,1250.7 L2083.8,1249.8 L2102.7,1248.9 L2121.7,1248.1 L2140.7,1247.2 L2159.6,1246.4 L2178.6,1245.6 L2197.6,1244.8 L2216.5,1244.0 L2235.5,1243.2 L2254.4,1242.4 L2273.4,1241.6 L2292.4,1240.8 L2311.3,1240.1 L2330.3,1239.3 L2349.3,1238.6 L2368.2,1237.9 L2387.2,1237.1 L2406.2,1236.4 L2425.1,1235.6 L2444.1,1234.8 L2463.0,1233.9 L2482.0,1233.0 L2500.9,1232.1 L2519.8,1231.1 L2538.7,1230.0 L2557.6,1228.8 L2576.5,1227.5 L2595.4,1226.2 L2614.3,1224.7 L2633.2,1223.1 L2652.0,1221.4 L2670.9,1219.5 L2689.7,1217.5 L2708.5,1215.3 L2727.3,1212.9 L2728.0,1014.0 L3053.0,1411.0 L2728.0,1809.0 L2727.3,1610.6 L2708.8,1605.5 L2690.1,1601.3 L2671.4,1598.0 L2652.6,1595.3 L2633.8,1593.3 L2614.9,1591.9 L2595.9,1590.8 L2577.0,1590.0 L2558.0,1589.5 L2539.0,1589.0 L2520.0,1588.5 L2501.0,1588.0 L2482.0,1587.5 L2463.0,1587.0 L2444.0,1586.4 L2425.0,1585.7 L2406.0,1585.1 L2387.0,1584.4 L2368.0,1583.7 L2349.0,1582.9 L2330.0,1582.1 L2311.1,1581.3 L2292.1,1580.4 L2273.1,1579.6 L2254.1,1578.6 L2235.2,1577.7 L2216.2,1576.7 L2197.2,1575.7 L2178.3,1574.7 L2159.3,1573.6 L2140.3,1572.5 L2121.4,1571.4 L2102.4,1570.3 L2083.5,1569.1 L2064.5,1567.9 L2045.6,1566.7 L2026.6,1565.4 L2007.7,1564.1 L1988.7,1562.8 L1969.8,1561.5 L1950.9,1560.1 L1931.9,1558.7 L1913.0,1557.3 L1894.1,1555.8 L1875.1,1554.4 L1856.2,1552.9 L1837.3,1551.3 L1818.3,1549.8 L1799.4,1548.2 L1780.5,1546.6 L1761.6,1545.0 L1742.7,1543.4 L1723.7,1541.7 L1704.8,1540.0 L1685.9,1538.3 L1667.0,1536.5 L1648.1,1534.8 L1629.2,1533.0 L1610.3,1531.2 L1591.4,1529.4 L1572.5,1527.5 L1553.6,1525.6 L1534.7,1523.7 L1515.8,1521.8 L1496.9,1519.9 L1478.0,1517.9 L1459.1,1516.0 L1440.2,1514.0 L1421.3,1511.9 L1402.4,1509.9 L1383.5,1507.8 L1364.7,1505.8 L1345.8,1503.7 L1326.9,1501.6 L1308.0,1499.4 L1289.1,1497.3 L1270.3,1495.1 L1251.4,1492.9 L1232.5,1490.7 L1213.7,1488.5 L1194.8,1486.3 L1175.9,1484.0 L1157.1,1481.8 L1138.2,1479.5 L1119.3,1477.2 L1100.5,1474.9 L1081.6,1472.6 L1062.7,1470.3 L1043.9,1468.0 L1025.0,1465.7 L1006.1,1463.3 L987.3,1461.0 L968.4,1458.7 L949.6,1456.3 L930.7,1454.0 L911.9,1451.7 L893.0,1449.3 L874.1,1447.0 L855.3,1444.7 L836.4,1442.3 L817.6,1440.0 L798.7,1437.7 L779.8,1435.4 L761.0,1433.1 L742.1,1430.8 L723.3,1428.5 L704.4,1426.2 L685.5,1423.9 L666.7,1421.7 L647.8,1419.4 L629.0,1417.2 L610.1,1415.0 L591.2,1412.8 L572.4,1410.6 L553.5,1408.5 L534.6,1406.3 L515.7,1404.2 L496.9,1402.1 L478.0,1400.0 Z" fill="#C5E0B4"/></g>
<g clip-path="url(#hc4)"><polygon points="2102.3,1117.0 2372.3,1251.0 2102.3,1417.0" fill="#558536" stroke="#558536" stroke-width="0.8"/><polygon points="2372.3,1251.0 2372.3,1582.0 2102.3,1417.0" fill="#538234" stroke="#538234" stroke-width="0.8"/><polygon points="2372.3,1582.0 2102.3,1717.0 2102.3,1417.0" fill="url(#gbr4)" stroke="url(#gbr4)" stroke-width="0.8"/><polygon points="2102.3,1717.0 1832.3,1582.0 2102.3,1417.0" fill="#5A8A3B" stroke="#5A8A3B" stroke-width="0.8"/><polygon points="1832.3,1582.0 1832.3,1251.0 2102.3,1417.0" fill="url(#gl4)" stroke="url(#gl4)" stroke-width="0.8"/><polygon points="1832.3,1251.0 2102.3,1117.0 2102.3,1417.0" fill="#5F8C40" stroke="#5F8C40" stroke-width="0.8"/><polygon points="2372.3,1251.0 2372.3,1582.0 2361.3,1576.0 2361.3,1257.0" fill="url(#grim4)"/><polyline points="1832.3,1251.0 2102.3,1117.0 2372.3,1251.0" fill="none" stroke="#3B6322" stroke-width="5" opacity="0.55"/><polyline points="1832.3,1582.0 2102.3,1717.0 2372.3,1582.0" fill="none" stroke="#3B6322" stroke-width="5" opacity="0.55"/><polygon points="2102.3,1117.0 2372.3,1251.0 2372.3,1582.0 2102.3,1717.0 1832.3,1582.0 1832.3,1251.0" fill="none" stroke="#3B6322" stroke-width="2.2"/></g>
<text transform="translate(1859.40,1402.80) scale(1.1222,1)" font-family="Liberation Sans" font-weight="bold" font-size="140" fill="#fff">M</text><text transform="translate(1990.93,1402.80) scale(0.9333,1)" font-family="Liberation Sans" font-weight="bold" font-size="140" fill="#fff">o</text><text transform="translate(2073.47,1402.80) scale(0.9056,1)" font-family="Liberation Sans" font-weight="bold" font-size="140" fill="#fff">d</text><text transform="translate(2154.23,1402.80) scale(0.9087,1)" font-family="Liberation Sans" font-weight="bold" font-size="140" fill="#fff">u</text><text transform="translate(2234.87,1402.80) scale(0.9150,1)" font-family="Liberation Sans" font-weight="bold" font-size="140" fill="#fff">l</text><text transform="translate(2271.25,1402.80) scale(0.9500,1)" font-family="Liberation Sans" font-weight="bold" font-size="140" fill="#fff">e</text>
<rect x="2053.3" y="1487.9" width="19.6" height="95.8" rx="5" ry="4" fill="#fff"/><rect x="2093.3" y="1487.9" width="19.6" height="95.8" rx="5" ry="4" fill="#fff"/><rect x="2133.3" y="1487.9" width="19.6" height="95.8" rx="5" ry="4" fill="#fff"/>
<polygon points="1305.4,1996.9 1575.4,2130.9 1575.4,2461.9 1305.4,2596.9 1035.4,2461.9 1035.4,2130.9" fill="#000" opacity="0.5" transform="translate(8,5)" filter="url(#shd)"/>
<g clip-path="url(#hc5)"><polygon points="1305.4,1996.9 1575.4,2130.9 1305.4,2296.9" fill="#C10101" stroke="#C10101" stroke-width="0.8"/><polygon points="1575.4,2130.9 1575.4,2461.9 1305.4,2296.9" fill="#BA0101" stroke="#BA0101" stroke-width="0.8"/><polygon points="1575.4,2461.9 1305.4,2596.9 1305.4,2296.9" fill="url(#gbr5)" stroke="url(#gbr5)" stroke-width="0.8"/><polygon points="1305.4,2596.9 1035.4,2461.9 1305.4,2296.9" fill="#BE0B0B" stroke="#BE0B0B" stroke-width="0.8"/><polygon points="1035.4,2461.9 1035.4,2130.9 1305.4,2296.9" fill="url(#gl5)" stroke="url(#gl5)" stroke-width="0.8"/><polygon points="1035.4,2130.9 1305.4,1996.9 1305.4,2296.9" fill="#C71111" stroke="#C71111" stroke-width="0.8"/><polygon points="1575.4,2130.9 1575.4,2461.9 1564.4,2455.9 1564.4,2136.9" fill="url(#grim5)"/><polyline points="1035.4,2130.9 1305.4,1996.9 1575.4,2130.9" fill="none" stroke="#8E0000" stroke-width="5" opacity="0.55"/><polyline points="1035.4,2461.9 1305.4,2596.9 1575.4,2461.9" fill="none" stroke="#8E0000" stroke-width="5" opacity="0.55"/><polygon points="1305.4,1996.9 1575.4,2130.9 1575.4,2461.9 1305.4,2596.9 1035.4,2461.9 1035.4,2130.9" fill="none" stroke="#8E0000" stroke-width="2.2"/></g>
<text transform="translate(1062.50,2282.70) scale(1.1222,1)" font-family="Liberation Sans" font-weight="bold" font-size="140" fill="#fff">M</text><text transform="translate(1194.03,2282.70) scale(0.9333,1)" font-family="Liberation Sans" font-weight="bold" font-size="140" fill="#fff">o</text><text transform="translate(1276.57,2282.70) scale(0.9056,1)" font-family="Liberation Sans" font-weight="bold" font-size="140" fill="#fff">d</text><text transform="translate(1357.33,2282.70) scale(0.9087,1)" font-family="Liberation Sans" font-weight="bold" font-size="140" fill="#fff">u</text><text transform="translate(1437.97,2282.70) scale(0.9150,1)" font-family="Liberation Sans" font-weight="bold" font-size="140" fill="#fff">l</text><text transform="translate(1474.35,2282.70) scale(0.9500,1)" font-family="Liberation Sans" font-weight="bold" font-size="140" fill="#fff">e</text>
<rect x="1295.9" y="2367.8" width="19.6" height="95.8" rx="5" ry="4" fill="#fff"/>
<polygon points="1855.6,1996.9 2125.6,2130.9 2125.6,2461.9 1855.6,2596.9 1585.6,2461.9 1585.6,2130.9" fill="#000" opacity="0.5" transform="translate(8,5)" filter="url(#shd)"/>
<g clip-path="url(#hc6)"><polygon points="1855.6,1996.9 2125.6,2130.9 1855.6,2296.9" fill="#2E76B7" stroke="#2E76B7" stroke-width="0.8"/><polygon points="2125.6,2130.9 2125.6,2461.9 1855.6,2296.9" fill="#2E73B3" stroke="#2E73B3" stroke-width="0.8"/><polygon points="2125.6,2461.9 1855.6,2596.9 1855.6,2296.9" fill="url(#gbr6)" stroke="url(#gbr6)" stroke-width="0.8"/><polygon points="1855.6,2596.9 1585.6,2461.9 1855.6,2296.9" fill="#3579B9" stroke="#3579B9" stroke-width="0.8"/><polygon points="1585.6,2461.9 1585.6,2130.9 1855.6,2296.9" fill="url(#gl6)" stroke="url(#gl6)" stroke-width="0.8"/><polygon points="1585.6,2130.9 1855.6,1996.9 1855.6,2296.9" fill="#3A80C1" stroke="#3A80C1" stroke-width="0.8"/><polygon points="2125.6,2130.9 2125.6,2461.9 2114.6,2455.9 2114.6,2136.9" fill="url(#grim6)"/><polyline points="1585.6,2130.9 1855.6,1996.9 2125.6,2130.9" fill="none" stroke="#1E5596" stroke-width="5" opacity="0.55"/><polyline points="1585.6,2461.9 1855.6,2596.9 2125.6,2461.9" fill="none" stroke="#1E5596" stroke-width="5" opacity="0.55"/><polygon points="1855.6,1996.9 2125.6,2130.9 2125.6,2461.9 1855.6,2596.9 1585.6,2461.9 1585.6,2130.9" fill="none" stroke="#1E5596" stroke-width="2.2"/></g>
<text transform="translate(1612.70,2282.70) scale(1.1222,1)" font-family="Liberation Sans" font-weight="bold" font-size="140" fill="#fff">M</text><text transform="translate(1744.23,2282.70) scale(0.9333,1)" font-family="Liberation Sans" font-weight="bold" font-size="140" fill="#fff">o</text><text transform="translate(1826.77,2282.70) scale(0.9056,1)" font-family="Liberation Sans" font-weight="bold" font-size="140" fill="#fff">d</text><text transform="translate(1907.53,2282.70) scale(0.9087,1)" font-family="Liberation Sans" font-weight="bold" font-size="140" fill="#fff">u</text><text transform="translate(1988.16,2282.70) scale(0.9150,1)" font-family="Liberation Sans" font-weight="bold" font-size="140" fill="#fff">l</text><text transform="translate(2024.55,2282.70) scale(0.9500,1)" font-family="Liberation Sans" font-weight="bold" font-size="140" fill="#fff">e</text>
<rect x="1826.8" y="2367.8" width="19.6" height="95.8" rx="5" ry="4" fill="#fff"/><rect x="1866.8" y="2367.8" width="19.6" height="95.8" rx="5" ry="4" fill="#fff"/>
<polygon points="2401.1,1996.9 2671.1,2130.9 2671.1,2461.9 2401.1,2596.9 2131.1,2461.9 2131.1,2130.9" fill="#000" opacity="0.5" transform="translate(8,5)" filter="url(#shd)"/>
<g clip-path="url(#hc7)"><polygon points="2401.1,1996.9 2671.1,2130.9 2401.1,2296.9" fill="#7131A2" stroke="#7131A2" stroke-width="0.8"/><polygon points="2671.1,2130.9 2671.1,2461.9 2401.1,2296.9" fill="#6F309F" stroke="#6F309F" stroke-width="0.8"/><polygon points="2671.1,2461.9 2401.1,2596.9 2401.1,2296.9" fill="url(#gbr7)" stroke="url(#gbr7)" stroke-width="0.8"/><polygon points="2401.1,2596.9 2131.1,2461.9 2401.1,2296.9" fill="#7638A6" stroke="#7638A6" stroke-width="0.8"/><polygon points="2131.1,2461.9 2131.1,2130.9 2401.1,2296.9" fill="url(#gl7)" stroke="url(#gl7)" stroke-width="0.8"/><polygon points="2131.1,2130.9 2401.1,1996.9 2401.1,2296.9" fill="#7B3DAB" stroke="#7B3DAB" stroke-width="0.8"/><polygon points="2671.1,2130.9 2671.1,2461.9 2660.1,2455.9 2660.1,2136.9" fill="url(#grim7)"/><polyline points="2131.1,2130.9 2401.1,1996.9 2671.1,2130.9" fill="none" stroke="#4E1A78" stroke-width="5" opacity="0.55"/><polyline points="2131.1,2461.9 2401.1,2596.9 2671.1,2461.9" fill="none" stroke="#4E1A78" stroke-width="5" opacity="0.55"/><polygon points="2401.1,1996.9 2671.1,2130.9 2671.1,2461.9 2401.1,2596.9 2131.1,2461.9 2131.1,2130.9" fill="none" stroke="#4E1A78" stroke-width="2.2"/></g>
<text transform="translate(2164.20,2282.70) scale(1.1222,1)" font-family="Liberation Sans" font-weight="bold" font-size="140" fill="#fff">M</text><text transform="translate(2295.73,2282.70) scale(0.9333,1)" font-family="Liberation Sans" font-weight="bold" font-size="140" fill="#fff">o</text><text transform="translate(2378.27,2282.70) scale(0.9056,1)" font-family="Liberation Sans" font-weight="bold" font-size="140" fill="#fff">d</text><text transform="translate(2459.03,2282.70) scale(0.9087,1)" font-family="Liberation Sans" font-weight="bold" font-size="140" fill="#fff">u</text><text transform="translate(2539.66,2282.70) scale(0.9150,1)" font-family="Liberation Sans" font-weight="bold" font-size="140" fill="#fff">l</text><text transform="translate(2576.05,2282.70) scale(0.9500,1)" font-family="Liberation Sans" font-weight="bold" font-size="140" fill="#fff">e</text>
<rect x="2354.0" y="2367.8" width="19.6" height="95.8" rx="5" ry="4" fill="#fff"/><polygon points="2385.6,2368.4 2406.1,2368.4 2429.3,2443.9 2451.3,2368.4 2471.0,2368.4 2441.8,2463.4 2415.6,2463.4" fill="#fff" stroke="#fff" stroke-width="2" stroke-linejoin="round"/>
<text x="25.6" y="1438.7" font-family="Liberation Sans" font-size="145" font-weight="normal" fill="#000">R</text>
<polyline points="145.6,1341.4 299.2,1254.0 520.3,1380.8" fill="none" stroke="#000" stroke-width="9.8" stroke-linecap="round" stroke-linejoin="miter"/>
<line x1="300.8" y1="1307.6" x2="497.4" y2="1421.2" stroke="#000" stroke-width="9.8" stroke-linecap="round"/>
<line x1="3528.0" y1="361.7" x2="3528.0" y2="534.0" stroke="#000" stroke-width="9.8" stroke-linecap="round"/>
<polyline points="3374.8,624.6 3528.0,536.6 3682.8,624.6" fill="none" stroke="#000" stroke-width="9.8" stroke-linecap="round" stroke-linejoin="miter"/>
<text x="3473.1" y="336.8" font-family="Liberation Sans" font-size="145" font-weight="normal" fill="#FF0000">O</text>
<text x="3582.8" y="336.8" font-family="Liberation Sans" font-size="145" font-weight="normal" fill="#FF0000">H</text>
<text x="3582.6" y="553.2" font-family="Liberation Sans" font-size="124" fill="#000" stroke="#000" stroke-width="1.6">*</text>
<text x="3254.2" y="720.2" font-family="Liberation Sans" font-size="145" font-weight="normal" fill="#000">R</text>
<text x="3698.3" y="720.4" font-family="Liberation Sans" font-size="145" font-weight="normal" fill="#FF0000">C</text>
<text x="3800.6" y="720.4" font-family="Liberation Sans" font-size="145" font-weight="normal" fill="#FF0000">O</text>
<text x="3909.6" y="748.4" font-family="Liberation Sans" font-size="109" font-weight="normal" fill="#FF0000">2</text>
<text x="3969.4" y="720.4" font-family="Liberation Sans" font-size="145" font-weight="normal" fill="#FF0000">H</text>
<line x1="3528.0" y1="2179.6" x2="3528.0" y2="2351.9" stroke="#000" stroke-width="9.8" stroke-linecap="round"/>
<polyline points="3374.8,2442.5 3528.0,2354.5 3682.8,2442.5" fill="none" stroke="#000" stroke-width="9.8" stroke-linecap="round" stroke-linejoin="miter"/>
<text x="3475.2" y="2153.9" font-family="Liberation Sans" font-size="145" font-weight="normal" fill="#0000FF">N</text>
<text x="3578.3" y="2153.9" font-family="Liberation Sans" font-size="145" font-weight="normal" fill="#0000FF">H</text>
<text x="3680.5" y="2181.8" font-family="Liberation Sans" font-size="109" font-weight="normal" fill="#0000FF">2</text>
<text x="3582.6" y="2371.1" font-family="Liberation Sans" font-size="124" fill="#000" stroke="#000" stroke-width="1.6">*</text>
<text x="3254.2" y="2538.1" font-family="Liberation Sans" font-size="145" font-weight="normal" fill="#000">R</text>
<text x="3698.3" y="2538.3" font-family="Liberation Sans" font-size="145" font-weight="normal" fill="#FF0000">C</text>
<text x="3800.6" y="2538.3" font-family="Liberation Sans" font-size="145" font-weight="normal" fill="#FF0000">O</text>
<text x="3909.6" y="2566.3" font-family="Liberation Sans" font-size="109" font-weight="normal" fill="#FF0000">2</text>
<text x="3969.4" y="2538.3" font-family="Liberation Sans" font-size="145" font-weight="normal" fill="#FF0000">H</text>
<line x1="3521.5" y1="1251.1" x2="3521.5" y2="1423.0" stroke="#000" stroke-width="9.8" stroke-linecap="round"/>
<polyline points="3367.6,1513.2 3521.5,1425.5 3742.5,1550.3 3884.7,1470.2" fill="none" stroke="#000" stroke-width="9.8" stroke-linecap="round" stroke-linejoin="miter"/>
<text x="3466.2" y="1225.0" font-family="Liberation Sans" font-size="145" font-weight="normal" fill="#FF0000">O</text>
<text x="3575.8" y="1225.0" font-family="Liberation Sans" font-size="145" font-weight="normal" fill="#FF0000">H</text>
<text x="3562.5" y="1454.6" font-family="Liberation Sans" font-size="124" fill="#000" stroke="#000" stroke-width="1.6">*</text>
<text x="3247.8" y="1608.8" font-family="Liberation Sans" font-size="145" font-weight="normal" fill="#000">R</text>
<text x="3911.3" y="1481.0" font-family="Liberation Sans" font-size="145" font-weight="normal" fill="#0000FF">N</text>
<text x="4014.4" y="1481.0" font-family="Liberation Sans" font-size="145" font-weight="normal" fill="#0000FF">H</text>
<text x="4116.7" y="1508.7" font-family="Liberation Sans" font-size="109" font-weight="normal" fill="#0000FF">2</text>
</svg></body></html>
